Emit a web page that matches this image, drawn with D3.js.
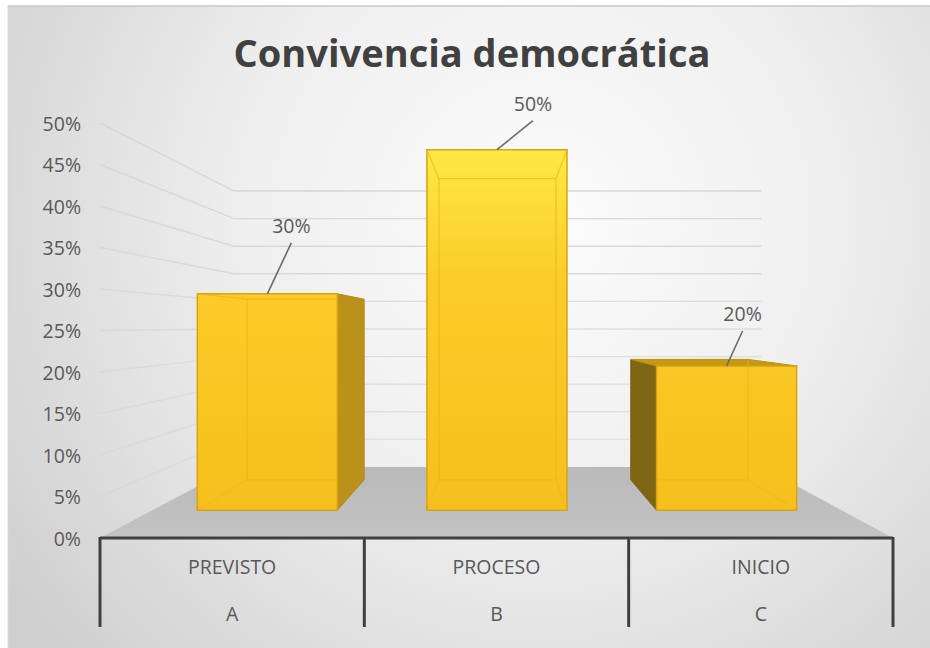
<!DOCTYPE html>
<html>
<head>
<meta charset="utf-8">
<script src="https://cdn.jsdelivr.net/npm/d3@7"></script>
<style>
  html,body{margin:0;padding:0;background:#fff;}
  svg{display:block;}
</style>
</head>
<body>
<svg id="chart" width="930" height="648"></svg>
<script>
// ---- data ----
const title = "Convivencia democrática";
const categories = ["PREVISTO", "PROCESO", "INICIO"];
const groups = ["A", "B", "C"];
const values = [30, 50, 20];
const dataLabels = ["30%", "50%", "20%"];
const yTicks = [0, 5, 10, 15, 20, 25, 30, 35, 40, 45, 50];

// ---- layout ----
const W = 930, H = 648;
const front = {left: 100, right: 893, bottom: 538, top: 123};
const VP = {x: 500, y: 326};          // perspective vanishing point
const depthK = 0.504;                  // perspective strength
const barZ = [0.30, 0.75];             // bar depth range (0 = front, 1 = back wall)
const barFrac = 0.305;                 // half bar width as fraction of band
const labelOffset = [[24, -61], [36, -39], [16, -45]];

const svg = d3.select("#chart");
const defs = svg.append("defs");

const x = d3.scaleBand().domain(categories).range([front.left, front.right]);
const y = d3.scaleLinear().domain([0, 50]).range([front.bottom, front.top]);

function proj(px, py, z) {
  const s = 1 / (1 + depthK * z);
  return [VP.x + s * (px - VP.x), VP.y + s * (py - VP.y)];
}
const poly = pts => "M" + pts.map(p => p.join(",")).join("L") + "Z";

// background
const bg = defs.append("radialGradient").attr("id", "bg")
  .attr("gradientUnits", "userSpaceOnUse").attr("cx", 540).attr("cy", 220).attr("r", 650);
bg.append("stop").attr("offset", 0).attr("stop-color", "#fcfcfc");
bg.append("stop").attr("offset", 0.45).attr("stop-color", "#efefef");
bg.append("stop").attr("offset", 1).attr("stop-color", "#cfcfcf");
svg.append("rect").attr("x", 8).attr("y", 6).attr("width", W - 8).attr("height", H - 6).attr("fill", "url(#bg)");
svg.append("line").attr("x1", 8).attr("x2", W).attr("y1", 6).attr("y2", 6).attr("stroke", "#c8c8c8").attr("stroke-width", 1.5);
svg.append("line").attr("x1", 8).attr("x2", 8).attr("y1", 6).attr("y2", H).attr("stroke", "#d8d8d8").attr("stroke-width", 1);

// gridlines on left and back walls
const grid = svg.append("g").attr("fill", "none").attr("stroke-width", 1.4);
yTicks.filter(v => v > 0).forEach(v => {
  const a = proj(front.left, y(v), 0), b = proj(front.left, y(v), 1), c = proj(front.right, y(v), 1);
  grid.append("path").attr("d", "M" + a + "L" + b + "L" + c)
    .attr("stroke", "#d6d6d6").attr("stroke-opacity", 0.5 + 0.5 * v / 50);
});

// floor
const floorPts = [proj(front.left, y(0), 0), proj(front.right, y(0), 0), proj(front.right, y(0), 1), proj(front.left, y(0), 1)];
const fg = defs.append("linearGradient").attr("id", "floor").attr("x1", 0).attr("x2", 0).attr("y1", 0).attr("y2", 1);
fg.append("stop").attr("offset", 0).attr("stop-color", "#b9b9b9");
fg.append("stop").attr("offset", 1).attr("stop-color", "#c3c3c3");
svg.append("path").attr("d", poly(floorPts)).attr("fill", "url(#floor)");

// bars
const frontGrad = defs.append("linearGradient").attr("id", "barFront")
  .attr("gradientUnits", "userSpaceOnUse").attr("x1", 0).attr("x2", 0).attr("y1", 145).attr("y2", 512);
frontGrad.append("stop").attr("offset", 0).attr("stop-color", "#ffea45");
frontGrad.append("stop").attr("offset", 0.35).attr("stop-color", "#fbcd2a");
frontGrad.append("stop").attr("offset", 1).attr("stop-color", "#f6bf1e");

const bars = svg.append("g");
categories.forEach((c, i) => {
  const cx = x(c) + x.bandwidth() / 2, hw = x.bandwidth() * barFrac;
  const x0 = cx - hw, x1 = cx + hw, yb = y(0), yt = y(values[i]);
  const [zf, zb] = barZ;
  const F = {
    lt: proj(x0, yt, zf), rt: proj(x1, yt, zf), lb: proj(x0, yb, zf), rb: proj(x1, yb, zf)
  };
  const B = {
    lt: proj(x0, yt, zb), rt: proj(x1, yt, zb), lb: proj(x0, yb, zb), rb: proj(x1, yb, zb)
  };
  const g = bars.append("g");
  const edge = "#d8a313";
  // visible side faces
  if (B.rt[0] > F.rt[0]) {
    g.append("path").attr("d", poly([F.rt, B.rt, B.rb, F.rb])).attr("fill", "#b9911b")
      .attr("stroke", "#b08a16").attr("stroke-width", 1);
  }
  if (B.lt[0] < F.lt[0]) {
    g.append("path").attr("d", poly([B.lt, F.lt, F.lb, B.lb])).attr("fill", "#7e6615")
      .attr("stroke", "#76600f").attr("stroke-width", 1);
  }
  if (F.lt[1] > VP.y) {
    g.append("path").attr("d", poly([F.lt, F.rt, B.rt, B.lt])).attr("fill", "#c39b12")
      .attr("stroke", "#b8920f").attr("stroke-width", 1);
  }
  // front face
  g.append("path").attr("d", poly([F.lt, F.rt, F.rb, F.lb])).attr("fill", "url(#barFront)")
    .attr("stroke", edge).attr("stroke-width", 1.5);
  // hidden edges seen through the translucent front
  const hid = g.append("g").attr("fill", "none").attr("stroke", "#e2ad12").attr("stroke-width", 1.2);
  const inFront = p => p[0] > F.lt[0] + 1 && p[0] < F.rt[0] - 1;
  if (inFront(B.lt)) hid.append("path").attr("d", "M" + B.lt + "L" + B.lb).attr("stroke-opacity", 0.55);
  if (inFront(B.rt)) hid.append("path").attr("d", "M" + B.rt + "L" + B.rb).attr("stroke-opacity", 0.55);
  hid.append("path").attr("d", "M" + [Math.max(B.lb[0], F.lb[0]), B.lb[1]] + "L" + [Math.min(B.rb[0], F.rb[0]), B.rb[1]]).attr("stroke-opacity", 0.25);
  if (inFront(B.lb)) hid.append("path").attr("d", "M" + F.lb + "L" + B.lb).attr("stroke-opacity", 0.25);
  if (inFront(B.rb)) hid.append("path").attr("d", "M" + F.rb + "L" + B.rb).attr("stroke-opacity", 0.25);
  if (F.lt[1] < VP.y) {
    hid.append("path").attr("d", "M" + [Math.max(B.lt[0], F.lt[0]), B.lt[1]] + "L" + [Math.min(B.rt[0], F.rt[0]), B.rt[1]]).attr("stroke-opacity", 0.55);
    if (inFront(B.lt)) hid.append("path").attr("d", "M" + F.lt + "L" + B.lt).attr("stroke-opacity", 0.55);
    if (inFront(B.rt)) hid.append("path").attr("d", "M" + F.rt + "L" + B.rt).attr("stroke-opacity", 0.55);
  }

  // data label with leader line
  const topC = proj(cx, yt, zf);
  const lx = topC[0] + labelOffset[i][0], ly = topC[1] + labelOffset[i][1];
  svg.append("line").attr("x1", lx).attr("y1", ly + 10).attr("x2", topC[0]).attr("y2", topC[1])
    .attr("stroke", "#6b6b6b").attr("stroke-width", 1.6);
  svg.append("text").attr("x", lx).attr("y", ly).attr("text-anchor", "middle")
    .attr("font-family", "'Open Sans', sans-serif").attr("font-size", 19.5).attr("fill", "#595959")
    .text(dataLabels[i]);
});

// y axis (labels only)
const yAxis = svg.append("g").attr("transform", `translate(${front.left - 8},0)`)
  .call(d3.axisLeft(y).tickValues(yTicks).tickFormat(d => d + "%").tickSize(0).tickPadding(11));
yAxis.select(".domain").remove();
yAxis.selectAll("text").attr("font-family", "'Open Sans', sans-serif").attr("font-size", 19.5)
  .attr("fill", "#595959").attr("dy", "0.36em");

// category axis (two-level)
const axisG = svg.append("g");
axisG.append("line").attr("x1", front.left).attr("x2", front.right).attr("y1", front.bottom).attr("y2", front.bottom)
  .attr("stroke", "#404040").attr("stroke-width", 3);
const bounds = categories.map(c => x(c)).concat([front.right]);
bounds.forEach(b => {
  axisG.append("line").attr("x1", b).attr("x2", b).attr("y1", front.bottom - 1).attr("y2", 627)
    .attr("stroke", "#404040").attr("stroke-width", 3);
});
categories.forEach((c, i) => {
  const cx = x(c) + x.bandwidth() / 2;
  axisG.append("text").attr("x", cx).attr("y", 574).attr("text-anchor", "middle")
    .attr("font-family", "'Open Sans', sans-serif").attr("font-size", 19.5).attr("fill", "#595959").text(c);
  axisG.append("text").attr("x", cx).attr("y", 621).attr("text-anchor", "middle")
    .attr("font-family", "'Open Sans', sans-serif").attr("font-size", 19.5).attr("fill", "#595959").text(groups[i]);
});

// title
const t = svg.append("text").attr("x", 472).attr("y", 67).attr("text-anchor", "middle")
  .attr("font-family", "'Open Sans', sans-serif").attr("font-weight", "bold").attr("font-size", 36)
  .attr("fill", "#404040").text(title);
const tw = t.node().getComputedTextLength();
if (tw > 0) t.attr("font-size", 36 * 477 / tw);
</script>
</body>
</html>
